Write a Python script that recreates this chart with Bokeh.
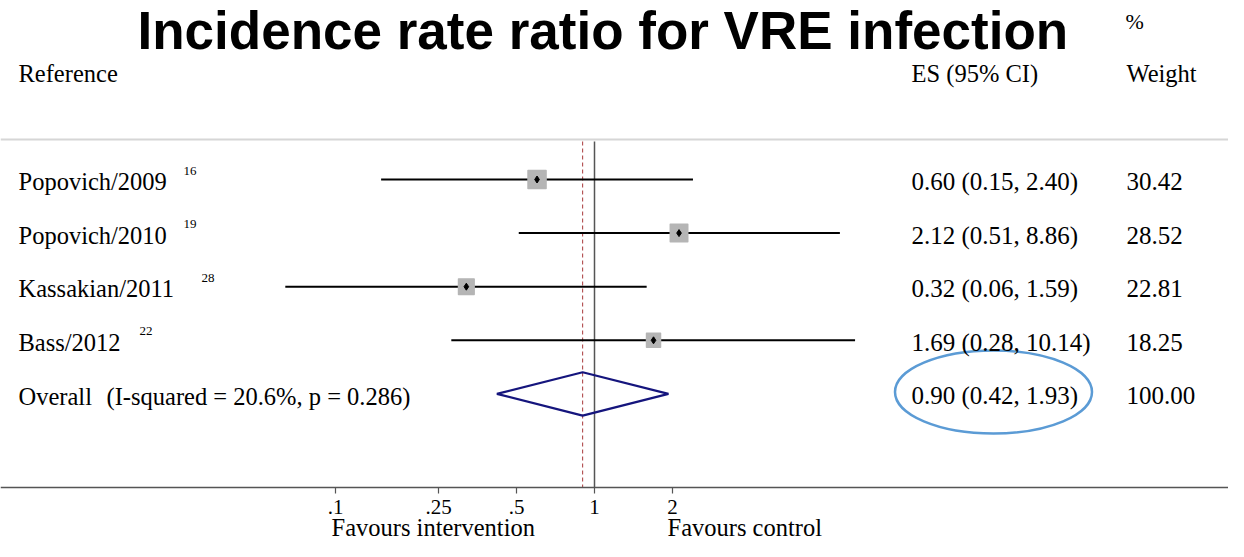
import math
from bokeh.plotting import figure
from bokeh.models import Range1d, LinearScale, LogAxis, FixedTicker, Span
from bokeh.core.properties import value
from bokeh.embed import file_html
from bokeh.resources import INLINE

# ---------------- data ----------------
title_text = "Incidence rate ratio for VRE infection"
studies = ["Popovich/2009", "Popovich/2010", "Kassakian/2011", "Bass/2012"]
ref_nums = ["16", "19", "28", "22"]
es = [0.60, 2.12, 0.32, 1.69]
lower = [0.15, 0.51, 0.064, 0.28]
upper = [2.40, 8.86, 1.59, 10.14]
weights = [30.42, 28.52, 22.81, 18.25]
overall_name = "Overall"
overall_stats = "(I-squared = 20.6%, p = 0.286)"
overall_es = 0.90
overall_lower = 0.42
overall_upper = 1.93
overall_weight = 100.00
tick_values = [0.1, 0.25, 0.5, 1, 2]
tick_labels = [".1", ".25", ".5", "1", "2"]
favours_left = "Favours intervention"
favours_right = "Favours control"

# ---------------- layout ----------------
W, H = 1228, 541
ROW0, ROW_H = 179, 53.6  # picture y of first row, row spacing
X_ONE, DEC = 594, 259    # picture x of value 1, pixels per decade
AXIS_Y = 487
MID = 0.34               # text anchor sits this many em above the baseline


def ry(pic_y):
    return (pic_y - ROW0) / ROW_H


def base(pic_y, size):
    """anchor y (data units) so that the text baseline lands on pic_y"""
    return ry(pic_y - MID * size)


SERIF = value("Liberation Serif")
FS = 24.5

p = figure(width=W, height=H, x_axis_type="log",
           x_range=Range1d(10 ** ((0 - X_ONE) / DEC), 10 ** ((W - X_ONE) / DEC)),
           y_range=Range1d(ry(H), ry(0)),
           output_backend="svg", toolbar_location=None, min_border=0,
           x_axis_location=None, y_axis_location=None,
           background_fill_color="white", border_fill_color="white",
           outline_line_color=None)
p.grid.grid_line_color = None
p.extra_x_ranges = {"px": Range1d(0, W)}
p.extra_x_scales = {"px": LinearScale()}

rows = list(range(len(studies)))
orow = len(studies)

# header rule
p.add_layout(Span(location=ry(139), dimension="width", line_color="#d6d6d6", line_width=2))

# null line and overall-effect line
p.segment(x0=[1], y0=[ry(141)], x1=[1], y1=[ry(AXIS_Y)], line_color="#555555", line_width=1.5)
p.segment(x0=[overall_es], y0=[ry(141)], x1=[overall_es], y1=[ry(AXIS_Y)],
          line_color="#a8383b", line_width=1, line_dash="4 3")

# confidence intervals
p.segment(x0=lower, y0=rows, x1=upper, y1=rows, line_color="black", line_width=2)
p.scatter(x=es, y=rows, marker="square", size=[3.27 * math.sqrt(w) for w in weights],
          fill_color="#b5b5b5", line_color="#b5b5b5", line_width=1.5, line_join="round")
p.scatter(x=es, y=rows, marker="diamond", size=7, fill_color="black", line_color="black")

# overall diamond
dh = 21.7 / ROW_H
p.patch(x=[overall_lower, overall_es, overall_upper, overall_es],
        y=[orow, orow - dh, orow, orow + dh],
        fill_color=None, line_color="#15157d", line_width=2.2)

# highlight ellipse
p.ellipse(x=[993], y=[ry(391.5)], width=197, height=83, width_units="screen",
          height_units="screen", fill_color=None, line_color="#5b9bd5", line_width=2.5,
          x_range_name="px")

# text columns
es_text = [f"{e:.2f} ({lo:.2f}, {hi:.2f})" for e, lo, hi in zip(es, lower, upper)]
w_text = [f"{w:.2f}" for w in weights]
sup_x = [183, 183, 201, 139]

common = dict(text_font=SERIF, text_font_size=f"{FS}px", text_color="black",
              text_baseline="alphabetic", x_range_name="px")
col = dict(common, text_font_size="25px")
row_off = 10.5 - MID * FS
p.text(x=[18] * len(studies), y=rows, text=studies, y_offset=row_off, **common)
p.text(x=sup_x, y=rows, text=ref_nums, y_offset=-4.5 - MID * 13, text_font=SERIF,
       text_color="black", text_font_size="13px", text_baseline="alphabetic",
       x_range_name="px")
p.text(x=[911] * len(studies), y=rows, text=es_text, y_offset=10.5 - MID * 25, **col)
p.text(x=[1126] * len(studies), y=rows, text=w_text, y_offset=10.5 - MID * 25, **col)

p.text(x=[18, 106], y=[orow, orow], text=[overall_name, overall_stats], y_offset=row_off, **common)
p.text(x=[911], y=[orow], text=[f"{overall_es:.2f} ({overall_lower:.2f}, {overall_upper:.2f})"],
       y_offset=10.5 - MID * 25, **col)
p.text(x=[1126], y=[orow], text=[f"{overall_weight:.2f}"], y_offset=10.5 - MID * 25, **col)

# headers
p.text(x=[18, 911, 1126], y=[base(81.5, FS)] * 3,
       text=["Reference", "ES (95% CI)", "Weight"], **common)
p.text(x=[1125], y=[base(28, 22)], text=["%"], text_font=SERIF, text_font_size="22px",
       text_color="black", text_baseline="alphabetic", x_range_name="px")

# title
p.text(x=[137], y=[base(48, 53)], text=[title_text], text_font=value("Liberation Sans"),
       text_font_style="bold", text_font_size="53px", text_color="black",
       text_baseline="alphabetic", x_range_name="px")

# favours labels
p.text(x=[331, 667], y=[base(535, FS)] * 2, text=[favours_left, favours_right], **common)

# x axis
axis = LogAxis(fixed_location=ry(AXIS_Y), ticker=FixedTicker(ticks=tick_values),
               major_label_overrides={v: l for v, l in zip(tick_values, tick_labels)})
axis.axis_line_color = "#555555"
axis.axis_line_width = 1.5
axis.major_tick_line_color = "#555555"
axis.major_tick_line_width = 1.2
axis.major_tick_out = 6
axis.major_tick_in = 0
axis.minor_tick_out = 0
axis.minor_tick_in = 0
axis.major_label_text_font = "Liberation Serif"
axis.major_label_text_font_size = "21px"
axis.major_label_text_color = "black"
axis.major_label_standoff = 6
p.add_layout(axis, "below")

open("out.html", "w").write(file_html(p, INLINE))
